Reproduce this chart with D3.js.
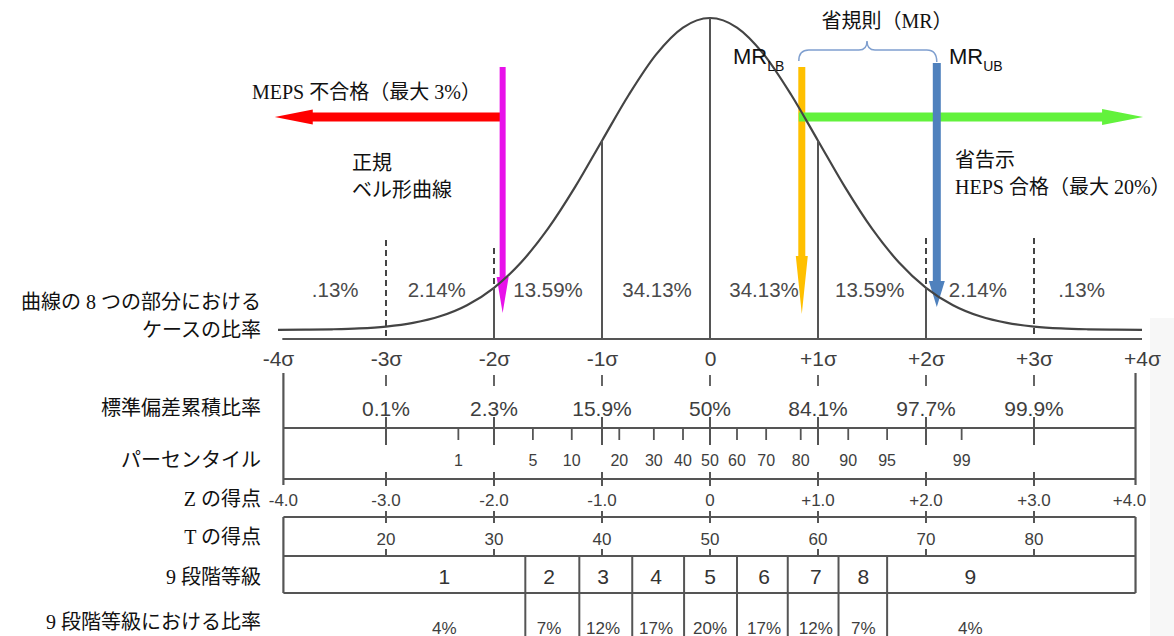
<!DOCTYPE html>
<html><head><meta charset="utf-8">
<script src="https://cdn.jsdelivr.net/npm/d3@7"></script>
<style>body{margin:0;background:#fff}svg{display:block}</style>
</head><body>
<svg id="c" width="1174" height="636"></svg>
<script>
// ---------- data ----------
const sigmaZ = [-4,-3,-2,-1,0,1,2,3,4];
const sigmaLabels = ["-4σ","-3σ","-2σ","-1σ","0","+1σ","+2σ","+3σ","+4σ"];
const segmentZ = [-3.47,-2.53,-1.5,-0.49,0.5,1.48,2.48,3.44];
const segmentPct = [".13%","2.14%","13.59%","34.13%","34.13%","13.59%","2.14%",".13%"];
const curveZ = [-4,-3.75,-3.5,-3.25,-3,-2.75,-2.5,-2.25,-2,-1.75,-1.5,-1.25,-1,-0.75,-0.5,-0.25,0,
                0.25,0.5,0.75,1,1.25,1.5,1.75,2,2.25,2.5,2.75,3,3.25,3.5,3.75,4];
const curveDensity = [0.0001,0.0004,0.0009,0.0020,0.0044,0.0091,0.0175,0.0317,0.0540,0.0863,0.1295,0.1826,0.2420,0.3011,0.3521,0.3867,0.3989,
                      0.3867,0.3521,0.3011,0.2420,0.1826,0.1295,0.0863,0.0540,0.0317,0.0175,0.0091,0.0044,0.0020,0.0009,0.0004,0.0001];
const solidLineZ = [-2,-1,0,1,2];
const dashedLineZ = [-3,-2,2,3];
const cumZ = [-3,-2,-1,0,1,2,3];
const cumLabels = ["0.1%","2.3%","15.9%","50%","84.1%","97.7%","99.9%"];
const percentileZ = [-2.33,-1.64,-1.28,-0.84,-0.52,-0.25,0,0.25,0.52,0.84,1.28,1.64,2.33];
const percentileLabels = ["1","5","10","20","30","40","50","60","70","80","90","95","99"];
const zScoreZ = [-4,-3,-2,-1,0,1,2,3,4];
const zScoreLabels = ["-4.0","-3.0","-2.0","-1.0","0","+1.0","+2.0","+3.0","+4.0"];
const tScoreZ = [-3,-2,-1,0,1,2,3];
const tScoreLabels = ["20","30","40","50","60","70","80"];
const stanineBounds = [-1.71,-1.21,-0.72,-0.24,0.25,0.72,1.19,1.64];
const stanineLabelZ = [-2.46,-1.49,-0.99,-0.5,0,0.5,0.98,1.42,2.41];
const stanineLabels = ["1","2","3","4","5","6","7","8","9"];
const staninePct = ["4%","7%","12%","17%","20%","17%","12%","7%","4%"];
const frameZ = [-3.95,3.94];
const mepsZ = -1.92, mrLbZ = 0.85, mrUbZ = 2.1;
const rowLabels = ["曲線の 8 つの部分における","ケースの比率","標準偏差累積比率","パーセンタイル","Z の得点","T の得点","9 段階等級","9 段階等級における比率"];

// ---------- setup ----------
const svg = d3.select("#c");
const x = d3.scaleLinear().domain([-4,4]).range([278,1142]);
const y = d3.scaleLinear().domain([0,0.3989]).range([330,18]);
const sans = "'Liberation Sans', Arial, sans-serif";
const serif = "'Liberation Serif', 'Noto Sans CJK JP', serif";
const ink = "#3e3e3e";
const Y = {axis:339, cumTop:373, cumLabel:408, pctLine:428, pctLabel:460, zLine:479, zLabel:500,
           tTop:517, tLabel:539, stTop:556, stLabel:576, stBot:593, stPct:628};

svg.append("rect").attr("x",1150).attr("y",318).attr("width",24).attr("height",318).attr("fill","#f7f7f7");

function line(x1,y1,x2,y2,w,col,dash){
  const l = svg.append("line").attr("x1",x1).attr("y1",y1).attr("x2",x2).attr("y2",y2)
    .attr("stroke",col||ink).attr("stroke-width",w||2);
  if(dash) l.attr("stroke-dasharray",dash);
  return l;
}
function text(s,tx,ty,size,fam,anchor,col){
  return svg.append("text").attr("x",tx).attr("y",ty).attr("font-size",size).attr("font-family",fam)
    .attr("text-anchor",anchor||"middle").attr("dominant-baseline","central").attr("fill",col||"#222").text(s);
}

// ---------- left row labels ----------
const rowY = [302,330,408,460,499,537,577,622];
rowLabels.forEach((s,i)=>text(s,261,rowY[i],20,serif,"end","#111"));

// ---------- curve segment percentages ----------
segmentPct.forEach((s,i)=>text(s,x(segmentZ[i]),289,20.5,sans,"middle","#4a4a4a"));

// ---------- arrows ----------
function arrowV(cx,top,tip,w,hw,hl,col){
  const p = d3.path();
  p.moveTo(cx-w/2,top); p.lineTo(cx+w/2,top); p.lineTo(cx+w/2,tip-hl); p.lineTo(cx+hw/2,tip-hl);
  p.lineTo(cx,tip); p.lineTo(cx-hw/2,tip-hl); p.lineTo(cx-w/2,tip-hl); p.closePath();
  svg.append("path").attr("d",p.toString()).attr("fill",col);
}
function arrowH(x0,tip,cy,w,hw,hl,col){
  const dir = tip>x0?1:-1;
  const p = d3.path();
  p.moveTo(x0,cy-w/2); p.lineTo(tip-dir*hl,cy-w/2); p.lineTo(tip-dir*hl,cy-hw/2); p.lineTo(tip,cy);
  p.lineTo(tip-dir*hl,cy+hw/2); p.lineTo(tip-dir*hl,cy+w/2); p.lineTo(x0,cy+w/2); p.closePath();
  svg.append("path").attr("d",p.toString()).attr("fill",col);
}
arrowH(x(mepsZ),x(-4.03),117,9,15,38,"#ff0000");
arrowV(x(mepsZ),67,313,6,12,36,"#e811ea");
arrowV(x(mrLbZ),67,314,7,12,58,"#ffc000");
arrowH(x(mrLbZ)-3,x(4.01),117,9,16,41,"#62f23c");
arrowV(x(mrUbZ),63,307,8,16,26,"#4f81bd");

// ---------- curve and verticals ----------
const pts = curveZ.map((z,i)=>[x(z),y(curveDensity[i])]);
svg.append("path").attr("d",d3.line().curve(d3.curveMonotoneX)(pts))
  .attr("fill","none").attr("stroke","#444").attr("stroke-width",2.2);
const dens = z => curveDensity[curveZ.indexOf(z)];
solidLineZ.forEach(z=>line(x(z),y(dens(z)),x(z),Y.axis,2,"#555"));
const dashTop = {"-3":240,"-2":248,"2":238,"3":238};
dashedLineZ.forEach(z=>{
  const bottom = Math.abs(z)===3 ? Y.axis : y(dens(z));
  line(x(z),dashTop[z],x(z),bottom,2,"#444","6,4");
});
line(x(-3.96),Y.axis,x(4),Y.axis,2.2,"#555");

// sigma axis labels
const sigAxis = d3.axisBottom(x).tickValues(sigmaZ).tickFormat((d,i)=>sigmaLabels[i]).tickSize(0).tickPadding(12);
const gSig = svg.append("g").attr("transform",`translate(0,${Y.axis})`).call(sigAxis);
gSig.select(".domain").remove();
gSig.selectAll("text").attr("font-size",21).attr("font-family",sans).attr("fill",ink);

// ---------- cumulative row ----------
const [fl,fr] = [x(frameZ[0]),x(frameZ[1])];
line(fl,Y.cumTop,fl,Y.zLine+6,2.2,"#555");
line(fr,Y.cumTop,fr,Y.zLine+6,2.2,"#555");
cumZ.forEach((z,i)=>{
  line(x(z),Y.cumTop+2,x(z),Y.cumTop+13,1.8,"#555");
  text(cumLabels[i],x(z),Y.cumLabel,21,sans,"middle",ink);
  line(x(z),Y.pctLine-11,x(z),Y.pctLine+17,2,"#555");
});
line(fl,Y.pctLine,fr,Y.pctLine,2.2,"#555");

// ---------- percentile row ----------
percentileZ.forEach((z,i)=>{
  line(x(z),Y.pctLine,x(z),Y.pctLine+12,1.8,"#555");
  text(percentileLabels[i],x(z),Y.pctLabel,16,sans,"middle",ink);
});
line(fl,Y.zLine,fr,Y.zLine,2.2,"#555");
tScoreZ.forEach(z=>line(x(z),Y.zLine-7,x(z),Y.zLine+7,2,"#555"));

// ---------- Z scores ----------
zScoreZ.forEach((z,i)=>{
  const xx = i===0?fl: i===zScoreZ.length-1?fr-6:x(z);
  text(zScoreLabels[i],xx,Y.zLabel,17,sans,"middle",ink);
});

// ---------- T scores ----------
line(fl,Y.tTop,fr,Y.tTop,2.2,"#555");
line(fl,Y.tTop,fl,Y.stBot,2.2,"#555");
line(fr,Y.tTop,fr,Y.stBot,2.2,"#555");
tScoreZ.forEach((z,i)=>{
  line(x(z),Y.tTop-6,x(z),Y.tTop+6,2,"#555");
  text(tScoreLabels[i],x(z),Y.tLabel,17,sans,"middle",ink);
  line(x(z),Y.stTop-7,x(z),Y.stTop,2,"#555");
});

// ---------- stanines ----------
line(fl,Y.stTop,fr,Y.stTop,2.2,"#555");
line(fl,Y.stBot,fr,Y.stBot,2.2,"#555");
stanineBounds.forEach(z=>line(x(z),Y.stTop,x(z),636,2,"#555"));
stanineLabels.forEach((s,i)=>text(s,x(stanineLabelZ[i]),Y.stLabel,21,sans,"middle","#333"));
staninePct.forEach((s,i)=>text(s,x(stanineLabelZ[i]),Y.stPct,17,sans,"middle",ink));

// ---------- annotations ----------
text("MEPS 不合格（最大 3%）",252,92,20,serif,"start","#111");
text("正規",352,163,20,serif,"start","#111");
text("ベル形曲線",352,190,20,serif,"start","#111");
text("省規則（MR）",887,21,20,serif,"middle","#111");
text("省告示",955,160,20,serif,"start","#111");
text("HEPS 合格（最大 20%）",955,187,20,serif,"start","#111");
const mrlb = svg.append("text").attr("x",733).attr("y",64).attr("font-family",sans).attr("font-size",22).attr("fill","#111");
mrlb.append("tspan").text("MR");
mrlb.append("tspan").attr("font-size",14).attr("dy",7).text("LB");
const mrub = svg.append("text").attr("x",949).attr("y",64).attr("font-family",sans).attr("font-size",22).attr("fill","#111");
mrub.append("tspan").text("MR");
mrub.append("tspan").attr("font-size",14).attr("dy",7).text("UB");
// brace
const bx0 = x(mrLbZ)-3, bx1 = x(mrUbZ), bm = 867;
const b = d3.path();
b.moveTo(bx0,61); b.quadraticCurveTo(bx0,50,bx0+10,50); b.lineTo(bm-8,50);
b.quadraticCurveTo(bm,50,bm,41); b.quadraticCurveTo(bm,50,bm+8,50);
b.lineTo(bx1-10,50); b.quadraticCurveTo(bx1,50,bx1,62);
svg.append("path").attr("d",b.toString()).attr("fill","none").attr("stroke","#7f9fcf").attr("stroke-width",1.5);
</script>
</body></html>
